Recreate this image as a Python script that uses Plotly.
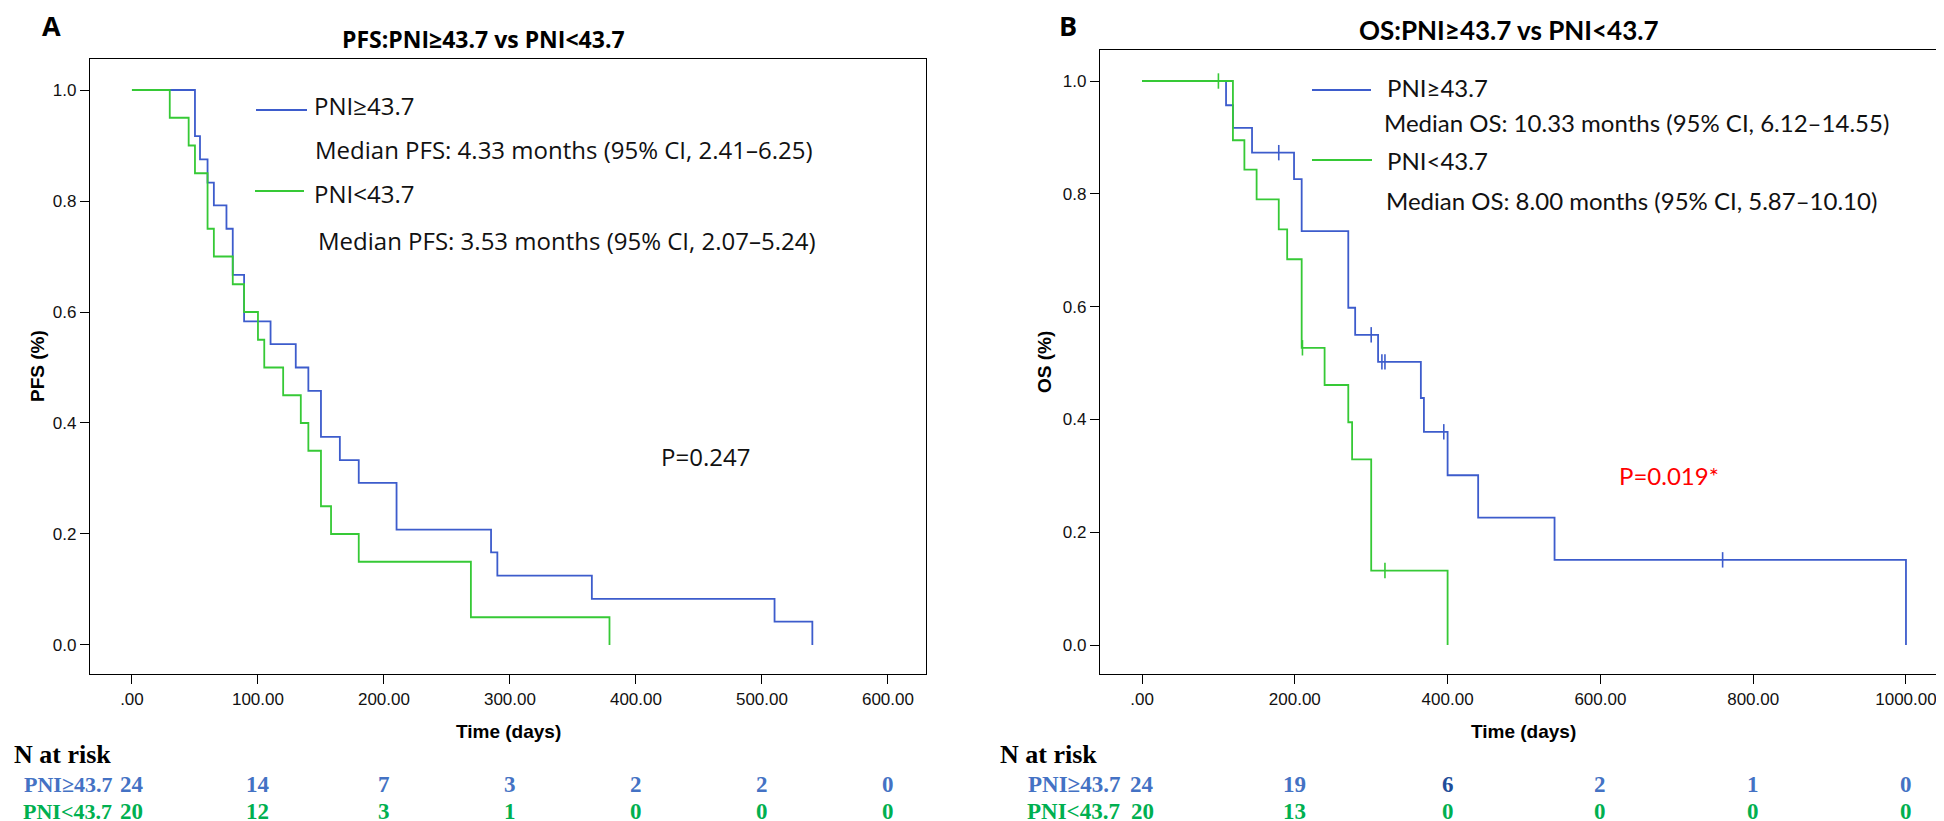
import plotly.graph_objects as go

W, H = 1944, 821

# ---------------------------------------------------------------------------
# data
# ---------------------------------------------------------------------------
# Panel A: PFS
pfs_hi_t = [0, 50, 54, 60, 65, 75, 80, 89, 110, 130, 140, 150, 165, 180, 210, 285, 290, 365, 510, 540]
pfs_hi_s = [1.0, 0.917, 0.875, 0.833, 0.792, 0.75, 0.667, 0.583, 0.542, 0.5, 0.458, 0.375, 0.333,
            0.292, 0.208, 0.167, 0.125, 0.083, 0.042, 0.0]
pfs_lo_t = [0, 30, 45, 50, 60, 65, 80, 89, 100, 105, 120, 134, 140, 150, 158, 180, 269, 379]
pfs_lo_s = [1.0, 0.95, 0.90, 0.85, 0.75, 0.70, 0.65, 0.60, 0.55, 0.50, 0.45, 0.40, 0.35, 0.25,
            0.20, 0.15, 0.05, 0.0]

# Panel B: OS
os_hi_t = [0, 110, 119, 144, 199, 209, 270, 279, 309, 365, 369, 400, 440, 540, 1000]
os_hi_s = [1.0, 0.957, 0.917, 0.873, 0.826, 0.734, 0.598, 0.550, 0.502, 0.438, 0.378, 0.301,
           0.226, 0.151, 0.0]
os_hi_cens_t = [179, 300, 314, 318, 395, 760]
os_hi_cens_s = [0.873, 0.550, 0.502, 0.502, 0.378, 0.151]
os_lo_t = [0, 119, 134, 150, 179, 190, 209, 239, 270, 275, 300, 400]
os_lo_s = [1.0, 0.895, 0.843, 0.790, 0.737, 0.684, 0.527, 0.461, 0.395, 0.329, 0.132, 0.0]
os_lo_cens_t = [100, 210, 318]
os_lo_cens_s = [1.0, 0.527, 0.132]

# risk tables
risk_a_t = [0, 100, 200, 300, 400, 500, 600]
risk_a_hi = [24, 14, 7, 3, 2, 2, 0]
risk_a_lo = [20, 12, 3, 1, 0, 0, 0]
risk_b_t = [0, 200, 400, 600, 800, 1000]
risk_b_hi = [24, 19, 6, 2, 1, 0]
risk_b_lo = [20, 13, 0, 0, 0, 0]

xticks_a = [0, 100, 200, 300, 400, 500, 600]
xticks_b = [0, 200, 400, 600, 800, 1000]
yticks = [0.0, 0.2, 0.4, 0.6, 0.8, 1.0]

BLUE = '#3d5ccc'
GREEN = '#36c936'
TXT_BLUE = '#4472c4'
TXT_GREEN = '#00b050'
RED = '#ff0000'


def px(x):
    return x / W


def py(y):
    return 1 - y / H


def xlab(v):
    return '.00' if v == 0 else f'{v:.2f}'


fig = go.Figure()

# survival curves
curves = [
    (pfs_hi_t, pfs_hi_s, BLUE, 'x', 'y'),
    (pfs_lo_t, pfs_lo_s, GREEN, 'x', 'y'),
    (os_hi_t, os_hi_s, BLUE, 'x2', 'y2'),
    (os_lo_t, os_lo_s, GREEN, 'x2', 'y2'),
]
for t, s, c, xa, ya in curves:
    fig.add_trace(go.Scatter(x=t, y=s, mode='lines', line=dict(color=c, width=1.8, shape='hv'),
                             xaxis=xa, yaxis=ya, showlegend=False, hoverinfo='skip'))

# censor marks
for t, s, c in [(os_hi_cens_t, os_hi_cens_s, BLUE), (os_lo_cens_t, os_lo_cens_s, GREEN)]:
    fig.add_trace(go.Scatter(x=t, y=s, mode='markers',
                             marker=dict(symbol='line-ns', size=11, line=dict(color=c, width=1.6)),
                             xaxis='x2', yaxis='y2', showlegend=False, hoverinfo='skip'))

axis_common = dict(showline=True, mirror=True, linecolor='black', linewidth=1.4,
                   showgrid=False, zeroline=False, ticks='outside', ticklen=9,
                   tickcolor='black', tickwidth=1.4,
                   tickfont=dict(family='Liberation Sans', size=17, color='#111'))

fig.update_layout(
    width=W, height=H, autosize=False,
    margin=dict(l=0, r=0, t=0, b=0),
    paper_bgcolor='white', plot_bgcolor='white',
    xaxis=dict(domain=[px(82), px(918)], range=[-33.3, 630.2], anchor='y',
               tickvals=xticks_a, ticktext=[xlab(v) for v in xticks_a], **axis_common),
    yaxis=dict(domain=[py(666), py(51)], range=[-0.0523, 1.0559], anchor='x',
               tickvals=yticks, ticktext=[f'{v:.1f}' for v in yticks], **axis_common),
    xaxis2=dict(domain=[px(1092), px(1938)], range=[-55, 1052.4], anchor='y2',
                tickvals=xticks_b, ticktext=[xlab(v) for v in xticks_b], **axis_common),
    yaxis2=dict(domain=[py(666), py(42)], range=[-0.0514, 1.055], anchor='x2',
                tickvals=yticks, ticktext=[f'{v:.1f}' for v in yticks], **axis_common),
)

ann = []
A_FONT = dict(family='Open Sans', size=24, color='#111')
B_FONT = dict(family='Lato', size=24, color='#111')
AXT_FONT = dict(family='Liberation Sans', size=19, color='black', weight='bold')
RISK = 'Liberation Serif'


def paper_text(x, y, text, font, xanchor='center', yanchor='middle', angle=0):
    ann.append(dict(x=px(x), y=py(y), xref='paper', yref='paper', text=text, showarrow=False,
                    font=font, xanchor=xanchor, yanchor=yanchor, textangle=angle))


# panel letters and titles
paper_text(43, 18, 'A', dict(family='Open Sans', size=27, color='black', weight='bold'))
paper_text(1060, 18, 'B', dict(family='Open Sans', size=27, color='black', weight='bold'))
paper_text(475, 31, 'PFS:PNI≥43.7 vs PNI<43.7',
           dict(family='Open Sans', size=23, color='black', weight='bold'))
paper_text(1500, 22, 'OS:PNI≥43.7 vs PNI<43.7',
           dict(family='Lato', size=26, color='black', weight='bold'))

# axis titles
paper_text(500, 723, 'Time (days)', AXT_FONT)
paper_text(1515, 723, 'Time (days)', AXT_FONT)
paper_text(30, 358, 'PFS (%)', AXT_FONT, angle=-90)
paper_text(1036, 354, 'OS (%)', AXT_FONT, angle=-90)

# legend-like labels, panel A
paper_text(304, 98, 'PNI≥43.7', A_FONT, xanchor='left')
paper_text(305, 142, 'Median PFS: 4.33 months (95% CI, 2.41–6.25)', A_FONT, xanchor='left')
paper_text(304, 186, 'PNI<43.7', A_FONT, xanchor='left')
paper_text(308, 233, 'Median PFS: 3.53 months (95% CI, 2.07–5.24)', A_FONT, xanchor='left')
# panel B
paper_text(1377, 80, 'PNI≥43.7', B_FONT, xanchor='left')
paper_text(1374, 114, 'Median OS: 10.33 months (95% CI, 6.12–14.55)', B_FONT, xanchor='left')
paper_text(1377, 153, 'PNI<43.7', B_FONT, xanchor='left')
paper_text(1376, 192, 'Median OS: 8.00 months (95% CI, 5.87–10.10)', B_FONT, xanchor='left')

# p-values (data coordinates)
ann.append(dict(x=455, y=0.34, xref='x', yref='y', text='P=0.247', showarrow=False,
                font=dict(family='Open Sans', size=24, color='#111')))
ann.append(dict(x=690, y=0.30, xref='x2', yref='y2', text='P=0.019*', showarrow=False,
                font=dict(family='Lato', size=24, color=RED)))

# risk tables
ROW1, ROW2 = 776, 803   # centres of the two rows (pixels)
NAR = dict(family=RISK, size=26, color='black', weight='bold')
paper_text(4, 746, 'N at risk', NAR, xanchor='left')
paper_text(990, 746, 'N at risk', NAR, xanchor='left')
paper_text(106, ROW1, 'PNI≥43.7', dict(family=RISK, size=22, color=TXT_BLUE, weight='bold'),
           xanchor='right')
paper_text(106, ROW2, 'PNI<43.7', dict(family=RISK, size=22, color=TXT_GREEN, weight='bold'),
           xanchor='right')
paper_text(1114, ROW1, 'PNI≥43.7', dict(family=RISK, size=23, color=TXT_BLUE, weight='bold'),
           xanchor='right')
paper_text(1114, ROW2, 'PNI<43.7', dict(family=RISK, size=23, color=TXT_GREEN, weight='bold'),
           xanchor='right')

for xa, ts, hi, lo in [('x', risk_a_t, risk_a_hi, risk_a_lo), ('x2', risk_b_t, risk_b_hi, risk_b_lo)]:
    for i, t in enumerate(ts):
        hc = '#1f4e9a' if (xa == 'x2' and i == 2) else TXT_BLUE
        ann.append(dict(x=t, y=py(ROW1), xref=xa, yref='paper', text=str(hi[i]), showarrow=False,
                        font=dict(family=RISK, size=23, color=hc, weight='bold'), yanchor='middle'))
        ann.append(dict(x=t, y=py(ROW2), xref=xa, yref='paper', text=str(lo[i]), showarrow=False,
                        font=dict(family=RISK, size=23, color=TXT_GREEN, weight='bold'),
                        yanchor='middle'))

fig.update_layout(annotations=ann)

# legend sample lines
shapes = [
    dict(type='line', xref='paper', yref='paper', x0=px(248), x1=px(299), y0=py(102), y1=py(102),
         line=dict(color=BLUE, width=2)),
    dict(type='line', xref='paper', yref='paper', x0=px(247), x1=px(296), y0=py(183), y1=py(183),
         line=dict(color=GREEN, width=2)),
    dict(type='line', xref='paper', yref='paper', x0=px(1304), x1=px(1363), y0=py(82), y1=py(82),
         line=dict(color=BLUE, width=2)),
    dict(type='line', xref='paper', yref='paper', x0=px(1304), x1=px(1364), y0=py(152), y1=py(152),
         line=dict(color=GREEN, width=2)),
]
fig.update_layout(shapes=shapes)

fig.write_html("out.html")
